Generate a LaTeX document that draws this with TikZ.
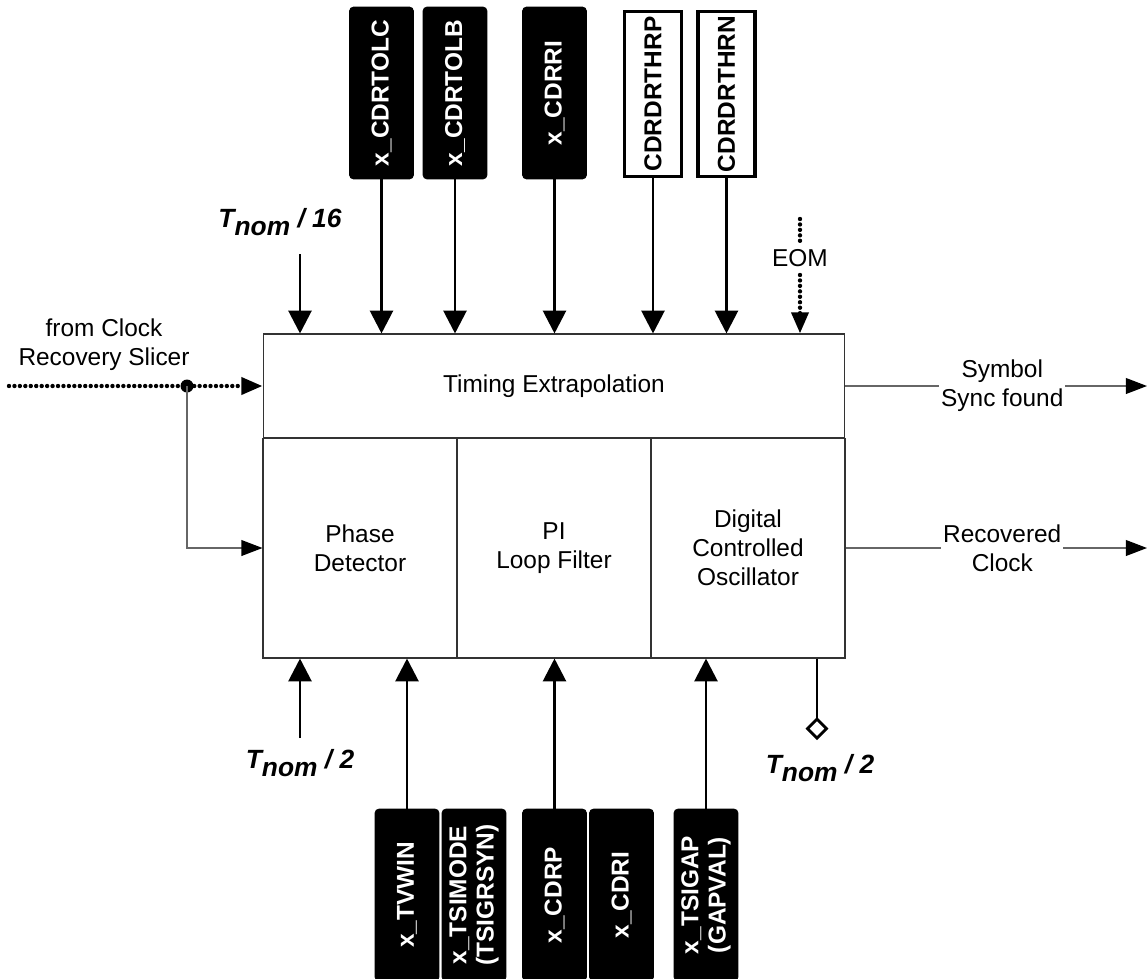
\documentclass[tikz,border=0pt]{standalone}
\usepackage{fontspec}
\setmainfont{Liberation Sans}
\usetikzlibrary{arrows.meta}

\tikzset{
	regbox/.style={draw=black, fill=black, text=white, rounded corners=0.08cm, rotate=90, minimum width=3.44cm, minimum height=1.28cm, inner sep=0pt, align=center, font=\bfseries\fontsize{13.9}{15.6}\selectfont},
	cfgbox/.style={draw=black, line width=2pt, fill=white, rotate=90, minimum width=3.3cm, minimum height=1.14cm, inner sep=0pt, font=\bfseries\fontsize{13.9}{15.6}\selectfont},
	cell/.style={draw=black!80, line width=0.6pt, minimum width=3.88cm, minimum height=4.4cm, inner sep=0pt, align=center},
	sig/.style={line width=1.7pt, -{Triangle[length=13pt, width=13pt]}},
	wire/.style={draw=black!60, line width=0.7pt, -{Triangle[length=12pt, width=9pt, color=black]}},
	dots/.style={line width=2.5pt, dash pattern=on 0pt off 3.1pt, line cap=round},
	dotsin/.style={dots, -{Triangle[length=12pt, width=9.5pt]}},
	tnom/.style={font=\bfseries\itshape\fontsize{15}{18}\selectfont, inner sep=0pt},
	lbl/.style={font=\fontsize{13.9}{16.4}\selectfont, align=center}
}

\begin{document}
\begin{tikzpicture}[x=0.02cm, y=-0.02cm, every node/.style={font=\fontsize{13.9}{16.4}\selectfont}]
	\useasboundingbox (0,0) rectangle (1147,978);

	\node[cell, minimum width=11.64cm, minimum height=2.08cm] (te) at (554,386) {Timing Extrapolation};
	\node[cell] (pd) at (360,548) {Phase\\Detector};
	\node[cell] (lf) at (554,548) {PI\\Loop Filter};
	\node[cell] (dco) at (748,548) {Digital\\Controlled\\Oscillator};

	\foreach \n/\x/\t in {tolc/381.5/x\_CDRTOLC, tolb/455/x\_CDRTOLB, cdrri/554.5/x\_CDRRI}
	{
		\node[regbox] (\n) at (\x,93) {\t};
		\draw[sig] (\n.west) -- (\n.west |- te.north);
	}
	\foreach \n/\x/\t in {thrp/653/CDRDRTHRP, thrn/726.5/CDRDRTHRN}
	{
		\node[cfgbox] (\n) at (\x,94) {\t};
		\draw[sig] (\n.west) -- (\n.west |- te.north);
	}

	\foreach \n/\x/\t in {tvwin/407/x\_TVWIN, tsimode/474/{x\_TSIMODE\\(TSIGRSYN)}, cdrp/554.5/x\_CDRP, cdri/621.5/x\_CDRI, tsigap/706/{x\_TSIGAP\\(GAPVAL)}}
	{
		\node[regbox] (\n) at (\x,895) {\t};
	}
	\draw[sig] (tvwin.east) -- (tvwin.east |- pd.south);
	\draw[sig] (cdrp.east) -- (cdrp.east |- lf.south);
	\draw[sig] (tsigap.east) -- (tsigap.east |- dco.south);

	\node[tnom] (t16) at (280,222) {T\raisebox{-0.3em}{nom} / 16};
	\coordinate (t16in) at (300,254);
	\draw[sig] (t16in) -- (t16in |- te.north);

	\node[tnom] (t2a) at (300,763) {T\raisebox{-0.3em}{nom} / 2};
	\coordinate (t2ain) at (300,738);
	\draw[sig] (t2ain) -- (t2ain |- pd.south);

	\node[tnom] (t2b) at (820,768) {T\raisebox{-0.3em}{nom} / 2};
	\coordinate (t2bout) at (817,740);
	\draw[line width=1.7pt, -{Diamond[open, fill=white, length=13pt, width=13pt, line width=1.6pt]}] (t2bout |- dco.south) -- (t2bout);

	\node (eom) at (800,258) {EOM};
	\coordinate (eomtop) at (800,219);
	\coordinate (eomup) at (800,243);
	\coordinate (eomlow) at (800,275);
	\draw[dots] (eomtop) -- (eomup);
	\draw[dotsin] (eomlow) -- (eomlow |- te.north);

	\node[lbl] (src) at (104,345) {from Clock\\Recovery Slicer};
	\coordinate (srcin) at (9,386);
	\coordinate (split) at (187,386);
	\draw[dotsin] (srcin) -- (te.west);
	\fill (split) circle (6.5);
	\draw[wire] (split) |- (pd.west);

	\coordinate (symout) at (1147,386);
	\coordinate (clkout) at (1147,548);
	\draw[wire] (te.east) -- (symout) node[pos=0.52, lbl, fill=white, inner sep=1pt] (sym) {Symbol\\Sync found};
	\draw[wire] (dco.east) -- (clkout) node[pos=0.52, lbl, fill=white, inner sep=1pt] (rclk) {Recovered\\Clock};
\end{tikzpicture}
\end{document}
